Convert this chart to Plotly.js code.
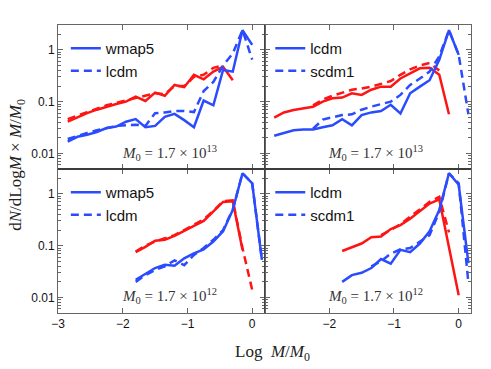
<!DOCTYPE html>
<html>
<head>
<meta charset="utf-8">
<script src="https://cdn.plot.ly/plotly-3.0.1.min.js"></script>
<style>
  html, body { margin: 0; padding: 0; background: #fff; }
  #chart { width: 491px; height: 369px; }
</style>
</head>
<body>
<div id="chart"></div>
<script>
// log M/M0 bins
let binsFrom285 = [-2.85, -2.7, -2.55, -2.4, -2.25, -2.1, -1.95, -1.8, -1.65, -1.5, -1.35, -1.2, -1.05, -0.9, -0.75, -0.6, -0.45, -0.3, -0.15, 0, 0.15];

// top left, M0 = 1.7e13 : wmap5 (solid) vs lcdm (dashed)
let tlWmapHost = [0.017, 0.021, 0.023, 0.026, 0.031, 0.033, 0.041, 0.046, 0.032, 0.034, 0.051, 0.058, 0.044, 0.032, 0.105, 0.085, 0.41, 0.38, 2.4, 1.25];
let tlLcdmHost = [0.019, 0.022, 0.025, 0.028, 0.031, 0.034, 0.035, 0.036, 0.034, 0.06, 0.062, 0.066, 0.066, 0.063, 0.16, 0.24, 0.5, 0.85, 2.4, 0.65];
let tlWmapSat  = [0.041, 0.05, 0.06, 0.07, 0.08, 0.09, 0.1, 0.125, 0.103, 0.15, 0.13, 0.21, 0.19, 0.33, 0.27, 0.38, 0.47, 0.26];
let tlLcdmSat  = [0.046, 0.053, 0.063, 0.073, 0.085, 0.095, 0.105, 0.12, 0.13, 0.145, 0.14, 0.2, 0.2, 0.3, 0.33, 0.45, 0.5];

// top right, M0 = 1.7e13 : lcdm (solid) vs scdm1 (dashed)
let trLcdmHost = [0.022, 0.025, 0.028, 0.029, 0.029, 0.032, 0.035, 0.046, 0.035, 0.055, 0.062, 0.066, 0.087, 0.059, 0.145, 0.195, 0.26, 0.64, 2.4, 0.8];
let trScdmHost = [0.03, 0.045, 0.05, 0.055, 0.057, 0.07, 0.08, 0.09, 0.1, 0.135, 0.21, 0.28, 0.38, 0.75, 2.4, 0.8, 0.057];
let trLcdmSat  = [0.049, 0.062, 0.069, 0.074, 0.08, 0.1, 0.116, 0.12, 0.145, 0.135, 0.17, 0.195, 0.195, 0.28, 0.35, 0.44, 0.45, 0.33, 0.057];
let trScdmSat  = [0.085, 0.11, 0.13, 0.15, 0.17, 0.18, 0.195, 0.22, 0.25, 0.33, 0.42, 0.5, 0.56, 0.4];

// bottom left, M0 = 1.7e12 : wmap5 vs lcdm
let blWmapHost = [0.022, 0.028, 0.037, 0.043, 0.041, 0.057, 0.071, 0.085, 0.12, 0.19, 0.49, 2.5, 1.6, 0.053];
let blLcdmHost = [0.02, 0.027, 0.034, 0.04, 0.052, 0.042, 0.066, 0.09, 0.13, 0.2, 0.5, 2.5, 1.6, 0.053];
let blWmapSat  = [0.075, 0.095, 0.125, 0.13, 0.155, 0.19, 0.24, 0.3, 0.45, 0.7, 0.72, 0.083];
let blLcdmSat  = [0.077, 0.1, 0.12, 0.14, 0.16, 0.2, 0.25, 0.32, 0.47, 0.72, 0.75, 0.09, 0.014];

// bottom right, M0 = 1.7e12 : lcdm vs scdm1
let brLcdmHost = [0.02, 0.027, 0.03, 0.037, 0.055, 0.045, 0.083, 0.075, 0.11, 0.19, 0.49, 2.5, 1.5, 0.046];
let brScdmHost = [0.04, 0.05, 0.07, 0.085, 0.09, 0.12, 0.16, 0.45, 2.5, 1.6, 0.019];
let brLcdmSat  = [0.079, 0.093, 0.11, 0.145, 0.15, 0.21, 0.25, 0.33, 0.46, 0.65, 0.78, 0.09, 0.011];
let brScdmSat  = [0.16, 0.2, 0.26, 0.36, 0.5, 0.7, 0.88, 0.18];

let legendNames = [["wmap5", "lcdm"], ["lcdm", "scdm1"], ["wmap5", "lcdm"], ["lcdm", "scdm1"]];
let massLabels = ["1.7 × 10<sup>13</sup>", "1.7 × 10<sup>13</sup>", "1.7 × 10<sup>12</sup>", "1.7 × 10<sup>12</sup>"];

let blue = "#2b4bff";
let red = "#ff1414";
let dashPat = "8px,5px";

// x values of a series that starts at bin value x0
function xFrom(x0, n) {
    let i0 = binsFrom285.indexOf(x0);
    return binsFrom285.slice(i0, i0 + n);
}

let panels = [
    {host: [tlWmapHost, -2.85], host2: [tlLcdmHost, -2.85], sat: [tlWmapSat, -2.85], sat2: [tlLcdmSat, -2.85]},
    {host: [trLcdmHost, -2.85], host2: [trScdmHost, -2.25], sat: [trLcdmSat, -2.85], sat2: [trScdmSat, -2.25]},
    {host: [blWmapHost, -1.8], host2: [blLcdmHost, -1.8], sat: [blWmapSat, -1.8], sat2: [blLcdmSat, -1.8]},
    {host: [brLcdmHost, -1.8], host2: [brScdmHost, -1.35], sat: [brLcdmSat, -1.8], sat2: [brScdmSat, -1.2]}
];

let traces = [];
panels.forEach(function (p, k) {
    let xa = k === 0 ? "x" : "x" + (k + 1);
    let ya = k === 0 ? "y" : "y" + (k + 1);
    let lg = k === 0 ? "legend" : "legend" + (k + 1);
    function line(s, color, dash, name, show) {
        return {
            x: xFrom(s[1], s[0].length), y: s[0],
            xaxis: xa, yaxis: ya, mode: "lines",
            line: {color: color, width: 2.5, dash: dash},
            name: name, showlegend: show, legend: lg, hoverinfo: "skip"
        };
    }
    traces.push(line(p.sat2, red, dashPat, "", false));
    traces.push(line(p.sat, red, "solid", "", false));
    traces.push(line(p.host2, blue, dashPat, legendNames[k][1], true));
    traces.push(line(p.host, blue, "solid", legendNames[k][0], true));
});

// minor ticks 2..9 in each decade
let minorVals = [];
for (let d = -3; d <= 0; d++) {
    for (let m = 2; m <= 9; m++) minorVals.push(m * Math.pow(10, d));
}

let axColor = "#666";
let tickFont = {family: "Liberation Sans, Arial, sans-serif", size: 12, color: "#111"};

function xAxis(dom, anchor, labels, left) {
    return {
        domain: dom, anchor: anchor, range: [-3, 0.19],
        tickmode: "array", tickvals: left ? [-3, -2, -1, 0] : [-2, -1, 0],
        ticktext: left ? ["−3", "−2", "−1", "0"] : ["−2", "−1", "0"],
        showticklabels: labels, ticks: "inside", ticklen: 5, tickcolor: axColor,
        showline: true, linecolor: axColor, linewidth: 1, mirror: "ticks",
        showgrid: false, zeroline: false, tickfont: tickFont
    };
}
function yAxis(dom, anchor, labels) {
    return {
        domain: dom, anchor: anchor, type: "log", range: [-2.3, 0.48],
        tickmode: "array", tickvals: [0.01, 0.1, 1], ticktext: ["0.01", "0.1", "1"],
        showticklabels: labels, ticks: "inside", ticklen: 5, tickcolor: axColor,
        minor: {tickmode: "array", tickvals: minorVals, ticks: "inside", ticklen: 3, tickcolor: axColor, showgrid: false},
        showline: true, linecolor: axColor, linewidth: 1, mirror: "ticks",
        showgrid: false, zeroline: false, tickfont: tickFont
    };
}

function legendAt(x, y) {
    return {
        x: x, y: y, xanchor: "left", yanchor: "top",
        bgcolor: "rgba(0,0,0,0)", borderwidth: 0, traceorder: "reversed",
        font: {family: "Liberation Sans, Arial, sans-serif", size: 15, color: "#111"},
        tracegroupgap: 0, itemwidth: 30
    };
}

let serif = "Liberation Serif, Times New Roman, serif";
let annotations = [];
let annoPos = [["x", "y", 0.54, 0.11], ["x2", "y2", 0.536, 0.11], ["x3", "y3", 0.54, 0.115], ["x4", "y4", 0.536, 0.115]];
annoPos.forEach(function (a, k) {
    annotations.push({
        xref: a[0] + " domain", yref: a[1] + " domain", x: a[2], y: a[3],
        xanchor: "center", yanchor: "middle", showarrow: false,
        text: "<i>M</i><sub>0</sub> = " + massLabels[k],
        font: {family: serif, size: 15, color: "#333"}
    });
});
annotations.push({
    xref: "paper", yref: "paper", x: -0.099, y: 0.515, xanchor: "center", yanchor: "middle",
    textangle: -90, showarrow: false,
    text: "d<i>N</i>/dLog<i>M</i> × <i>M</i>/<i>M</i><sub>0</sub>",
    font: {family: serif, size: 17, color: "#222"}
});
annotations.push({
    xref: "paper", yref: "paper", x: 0.52, y: -0.14, xanchor: "center", yanchor: "middle",
    showarrow: false,
    text: "Log  <i>M</i>/<i>M</i><sub>0</sub>",
    font: {family: serif, size: 17, color: "#222"}
});

// the shared borders between panels look darker in the original
let shapes = [
    {type: "line", xref: "paper", yref: "paper", x0: 0, x1: 1, y0: 0.5, y1: 0.5, line: {color: "#111", width: 1.2}},
    {type: "line", xref: "paper", yref: "paper", x0: 0.5, x1: 0.5, y0: 0, y1: 1, line: {color: "#444", width: 1}}
];

let layout = {
    width: 491, height: 369,
    margin: {l: 58, r: 20, t: 25, b: 56, pad: 0},
    paper_bgcolor: "#fff", plot_bgcolor: "#fff",
    xaxis: xAxis([0, 0.5], "y", false, true),
    xaxis2: xAxis([0.5, 1], "y2", false, false),
    xaxis3: xAxis([0, 0.5], "y3", true, true),
    xaxis4: xAxis([0.5, 1], "y4", true, false),
    yaxis: yAxis([0.5, 1], "x", true),
    yaxis2: yAxis([0.5, 1], "x2", false),
    yaxis3: yAxis([0, 0.5], "x3", true),
    yaxis4: yAxis([0, 0.5], "x4", false),
    legend: legendAt(0.019, 0.976),
    legend2: legendAt(0.514, 0.976),
    legend3: legendAt(0.019, 0.476),
    legend4: legendAt(0.514, 0.476),
    annotations: annotations,
    shapes: shapes
};

Plotly.newPlot("chart", traces, layout, {staticPlot: true});
</script>
</body>
</html>
